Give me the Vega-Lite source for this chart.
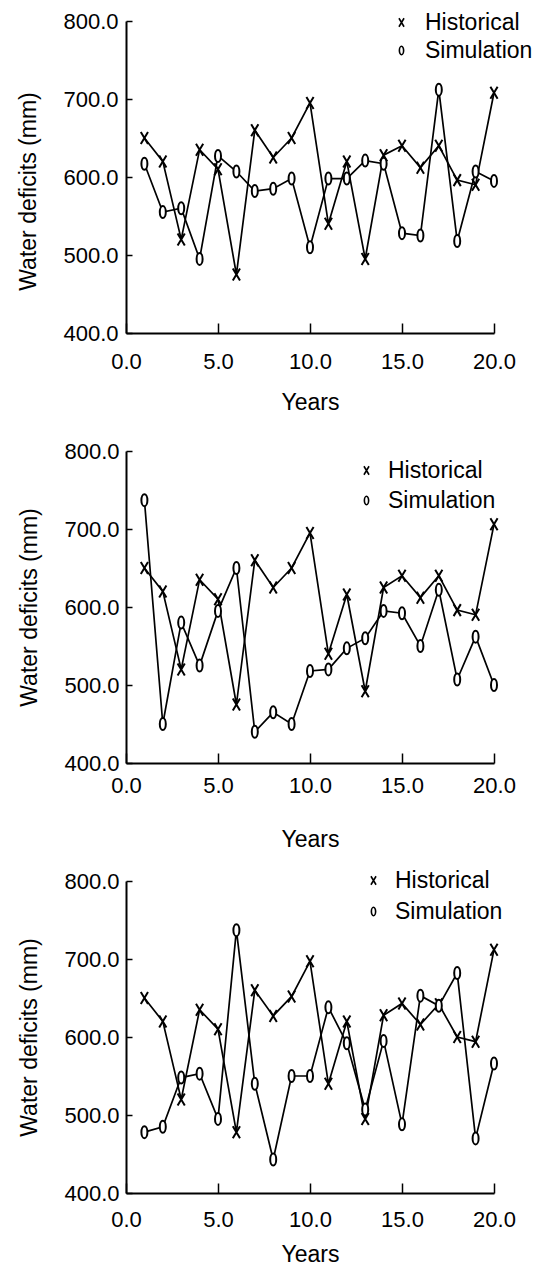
{
  "$schema": "https://vega.github.io/schema/vega-lite/v6.json",
  "background": "white",
  "padding": {"left": 17, "top": 10, "right": 5, "bottom": 5},
  "config": {
    "view": {"stroke": null},
    "font": "Liberation Sans",
    "axis": {
      "domainColor": "black", "domainWidth": 2, "tickColor": "black", "tickWidth": 1.5,
      "grid": false, "labelColor": "black", "titleColor": "black",
      "labelFont": "Liberation Sans", "titleFont": "Liberation Sans",
      "labelFontSize": 22, "titleFontSize": 23, "titleFontWeight": "normal",
      "labelFlush": false, "labelOverlap": false
    },
    "legend": {
      "labelFont": "Liberation Sans", "labelFontSize": 23, "labelColor": "black"
    }
  },
  "datasets": {
    "p1": [
      {"year":1,"series":"Historical","value":650},{"year":2,"series":"Historical","value":620},{"year":3,"series":"Historical","value":520},{"year":4,"series":"Historical","value":635},{"year":5,"series":"Historical","value":610},{"year":6,"series":"Historical","value":475},{"year":7,"series":"Historical","value":660},{"year":8,"series":"Historical","value":625},{"year":9,"series":"Historical","value":650},{"year":10,"series":"Historical","value":695},{"year":11,"series":"Historical","value":540},{"year":12,"series":"Historical","value":620},{"year":13,"series":"Historical","value":495},{"year":14,"series":"Historical","value":628},{"year":15,"series":"Historical","value":640},{"year":16,"series":"Historical","value":612},{"year":17,"series":"Historical","value":640},{"year":18,"series":"Historical","value":596},{"year":19,"series":"Historical","value":590},{"year":20,"series":"Historical","value":708},
      {"year":1,"series":"Simulation","value":617},{"year":2,"series":"Simulation","value":555},{"year":3,"series":"Simulation","value":560},{"year":4,"series":"Simulation","value":495},{"year":5,"series":"Simulation","value":627},{"year":6,"series":"Simulation","value":607},{"year":7,"series":"Simulation","value":582},{"year":8,"series":"Simulation","value":585},{"year":9,"series":"Simulation","value":598},{"year":10,"series":"Simulation","value":510},{"year":11,"series":"Simulation","value":598},{"year":12,"series":"Simulation","value":598},{"year":13,"series":"Simulation","value":621},{"year":14,"series":"Simulation","value":617},{"year":15,"series":"Simulation","value":528},{"year":16,"series":"Simulation","value":525},{"year":17,"series":"Simulation","value":712},{"year":18,"series":"Simulation","value":518},{"year":19,"series":"Simulation","value":607},{"year":20,"series":"Simulation","value":595}
    ],
    "p2": [
      {"year":1,"series":"Historical","value":650},{"year":2,"series":"Historical","value":620},{"year":3,"series":"Historical","value":520},{"year":4,"series":"Historical","value":635},{"year":5,"series":"Historical","value":610},{"year":6,"series":"Historical","value":475},{"year":7,"series":"Historical","value":660},{"year":8,"series":"Historical","value":625},{"year":9,"series":"Historical","value":650},{"year":10,"series":"Historical","value":695},{"year":11,"series":"Historical","value":540},{"year":12,"series":"Historical","value":616},{"year":13,"series":"Historical","value":492},{"year":14,"series":"Historical","value":625},{"year":15,"series":"Historical","value":640},{"year":16,"series":"Historical","value":612},{"year":17,"series":"Historical","value":640},{"year":18,"series":"Historical","value":596},{"year":19,"series":"Historical","value":590},{"year":20,"series":"Historical","value":706},
      {"year":1,"series":"Simulation","value":737},{"year":2,"series":"Simulation","value":450},{"year":3,"series":"Simulation","value":580},{"year":4,"series":"Simulation","value":525},{"year":5,"series":"Simulation","value":595},{"year":6,"series":"Simulation","value":650},{"year":7,"series":"Simulation","value":440},{"year":8,"series":"Simulation","value":465},{"year":9,"series":"Simulation","value":450},{"year":10,"series":"Simulation","value":518},{"year":11,"series":"Simulation","value":520},{"year":12,"series":"Simulation","value":547},{"year":13,"series":"Simulation","value":560},{"year":14,"series":"Simulation","value":595},{"year":15,"series":"Simulation","value":592},{"year":16,"series":"Simulation","value":550},{"year":17,"series":"Simulation","value":622},{"year":18,"series":"Simulation","value":507},{"year":19,"series":"Simulation","value":562},{"year":20,"series":"Simulation","value":500}
    ],
    "p3": [
      {"year":1,"series":"Historical","value":650},{"year":2,"series":"Historical","value":620},{"year":3,"series":"Historical","value":520},{"year":4,"series":"Historical","value":635},{"year":5,"series":"Historical","value":610},{"year":6,"series":"Historical","value":478},{"year":7,"series":"Historical","value":660},{"year":8,"series":"Historical","value":627},{"year":9,"series":"Historical","value":652},{"year":10,"series":"Historical","value":697},{"year":11,"series":"Historical","value":540},{"year":12,"series":"Historical","value":620},{"year":13,"series":"Historical","value":495},{"year":14,"series":"Historical","value":628},{"year":15,"series":"Historical","value":643},{"year":16,"series":"Historical","value":616},{"year":17,"series":"Historical","value":642},{"year":18,"series":"Historical","value":600},{"year":19,"series":"Historical","value":594},{"year":20,"series":"Historical","value":712},
      {"year":1,"series":"Simulation","value":478},{"year":2,"series":"Simulation","value":485},{"year":3,"series":"Simulation","value":548},{"year":4,"series":"Simulation","value":553},{"year":5,"series":"Simulation","value":495},{"year":6,"series":"Simulation","value":737},{"year":7,"series":"Simulation","value":540},{"year":8,"series":"Simulation","value":443},{"year":9,"series":"Simulation","value":550},{"year":10,"series":"Simulation","value":550},{"year":11,"series":"Simulation","value":638},{"year":12,"series":"Simulation","value":592},{"year":13,"series":"Simulation","value":507},{"year":14,"series":"Simulation","value":595},{"year":15,"series":"Simulation","value":488},{"year":16,"series":"Simulation","value":653},{"year":17,"series":"Simulation","value":640},{"year":18,"series":"Simulation","value":682},{"year":19,"series":"Simulation","value":470},{"year":20,"series":"Simulation","value":566}
    ]
  },
  "vconcat": [
    {
      "width": 368, "height": 312,
      "data": {"name": "p1"},
      "encoding": {
        "x": {"field": "year", "type": "quantitative", "scale": {"domain": [0, 20], "nice": false},
              "axis": {"title": "Years", "values": [0, 5, 10, 15, 20], "format": ".1f", "tickSize": -10, "labelPadding": 28, "titlePadding": 19}},
        "y": {"field": "value", "type": "quantitative", "scale": {"domain": [400, 800], "nice": false},
              "axis": {"title": "Water deficits (mm)", "values": [400, 500, 600, 700, 800], "format": ".1f", "tickSize": -6, "labelPadding": 14, "titlePadding": 22, "titleY": 170}}
      },
      "layer": [
        {"mark": {"type": "line", "color": "black", "strokeWidth": 1.7}, "encoding": {"detail": {"field": "series"}}},
        {"mark": {"type": "point", "filled": false, "fill": "white", "stroke": "black", "strokeWidth": 2, "size": 144, "opacity": 1},
         "encoding": {"shape": {"field": "series", "type": "nominal",
           "scale": {"domain": ["Historical", "Simulation"], "range": ["M-0.6,-1L0.6,1M-0.6,1L0.6,-1", "M0,-1A0.5,1 0 1,1 0,1A0.5,1 0 1,1 0,-1Z"]},
           "legend": {"title": null, "orient": "none", "legendX": 264, "legendY": -10, "padding": 0, "rowPadding": 4, "labelOffset": 12, "symbolSize": 72, "symbolStrokeWidth": 1.6}}}}
      ]
    },
    {
      "width": 368, "height": 312,
      "data": {"name": "p2"},
      "encoding": {
        "x": {"field": "year", "type": "quantitative", "scale": {"domain": [0, 20], "nice": false},
              "axis": {"title": "Years", "values": [0, 5, 10, 15, 20], "format": ".1f", "tickSize": -10, "labelPadding": 22, "titlePadding": 32}},
        "y": {"field": "value", "type": "quantitative", "scale": {"domain": [400, 800], "nice": false},
              "axis": {"title": "Water deficits (mm)", "values": [400, 500, 600, 700, 800], "format": ".1f", "tickSize": -6, "labelPadding": 13, "titlePadding": 22}}
      },
      "layer": [
        {"mark": {"type": "line", "color": "black", "strokeWidth": 1.7}, "encoding": {"detail": {"field": "series"}}},
        {"mark": {"type": "point", "filled": false, "fill": "white", "stroke": "black", "strokeWidth": 2, "size": 144, "opacity": 1},
         "encoding": {"shape": {"field": "series", "type": "nominal",
           "scale": {"domain": ["Historical", "Simulation"], "range": ["M-0.6,-1L0.6,1M-0.6,1L0.6,-1", "M0,-1A0.5,1 0 1,1 0,1A0.5,1 0 1,1 0,-1Z"]},
           "legend": {"title": null, "orient": "none", "legendX": 229, "legendY": 8, "padding": 0, "rowPadding": 6, "labelOffset": 10, "symbolSize": 72, "symbolStrokeWidth": 1.6}}}}
      ]
    },
    {
      "width": 368, "height": 312,
      "data": {"name": "p3"},
      "encoding": {
        "x": {"field": "year", "type": "quantitative", "scale": {"domain": [0, 20], "nice": false},
              "axis": {"title": "Years", "values": [0, 5, 10, 15, 20], "format": ".1f", "tickSize": -10, "labelPadding": 26, "titlePadding": 13}},
        "y": {"field": "value", "type": "quantitative", "scale": {"domain": [400, 800], "nice": false},
              "axis": {"title": "Water deficits (mm)", "values": [400, 500, 600, 700, 800], "format": ".1f", "tickSize": -6, "labelPadding": 13, "titlePadding": 22}}
      },
      "layer": [
        {"mark": {"type": "line", "color": "black", "strokeWidth": 1.7}, "encoding": {"detail": {"field": "series"}}},
        {"mark": {"type": "point", "filled": false, "fill": "white", "stroke": "black", "strokeWidth": 2, "size": 144, "opacity": 1},
         "encoding": {"shape": {"field": "series", "type": "nominal",
           "scale": {"domain": ["Historical", "Simulation"], "range": ["M-0.6,-1L0.6,1M-0.6,1L0.6,-1", "M0,-1A0.5,1 0 1,1 0,1A0.5,1 0 1,1 0,-1Z"]},
           "legend": {"title": null, "orient": "none", "legendX": 236, "legendY": -12, "padding": 0, "rowPadding": 7, "labelOffset": 10, "symbolSize": 72, "symbolStrokeWidth": 1.6}}}}
      ]
    }
  ],
  "spacing": 118,
  "bounds": "flush",
  "resolve": {"scale": {"shape": "independent"}, "legend": {"shape": "independent"}}
}
